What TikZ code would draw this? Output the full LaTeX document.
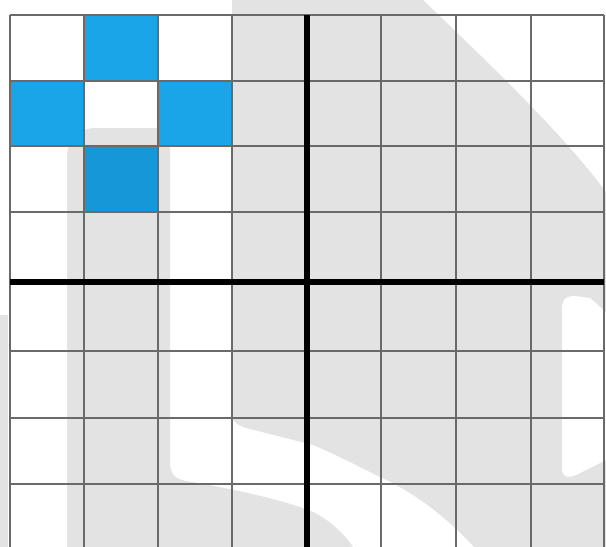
\documentclass[tikz,border=0pt]{standalone}
\definecolor{cellblue}{HTML}{19A5E8}
\definecolor{cellbluedark}{HTML}{1597D8}
\definecolor{wm}{HTML}{E3E3E3}
\definecolor{gridc}{HTML}{6A6A6A}
\tikzset{
  wmark/.style={fill=wm},
  bluecell/.style={fill=cellblue},
  bluecelldark/.style={fill=cellbluedark},
  gridline/.style={draw=gridc, line width=1.6pt},
  axisline/.style={draw=black, line width=5.5pt}
}
\begin{document}
\begin{tikzpicture}[x=1pt,y=-1pt]
\useasboundingbox (0,0) rectangle (606,547);
\fill[white] (0,0) rectangle (606,547);
\begin{scope}
\clip (0,0) rectangle (606,547);
% watermark: right body
\fill[wmark] (232,0) -- (423,0) .. controls (480,55) and (560,130) .. (606,192)
  -- (606,547) -- (474,547) .. controls (440,510) and (405,488) .. (380,477)
  .. controls (350,462) and (330,452) .. (313,445) -- (250,429)
  .. controls (238,426) and (232,422) .. (232,414) -- cycle;
% watermark: hole in right body
\fill[white] (562,310) .. controls (562,300) and (565,296) .. (575,296) -- (590,298)
  -- (606,312) -- (606,460) -- (576,475) .. controls (566,479) and (562,476) .. (562,468) -- cycle;
% watermark: stem and lower band
\fill[wmark] (67,547) -- (67,158) .. controls (67,140) and (78,128) .. (96,128)
  -- (170,128) -- (170,462) .. controls (170,475) and (176,479) .. (186,481)
  .. controls (240,490) and (290,502) .. (313,512)
  .. controls (330,520) and (345,535) .. (353,547) -- cycle;
% watermark: left strip
\fill[wmark] (0,315) rectangle (8,547);
% blue cells
\fill[bluecell] (84,15) rectangle (158,81);
\fill[bluecell] (10,81) rectangle (84,146);
\fill[bluecell] (158,81) rectangle (232,146);
\fill[bluecelldark] (84,146) rectangle (158,212);
% grid
\foreach \gx in {10,84,158,232,381,456,531,604}
  \draw[gridline] (\gx,15) -- (\gx,551);
\foreach \gy in {15,81,146,212,351,418,484}
  \draw[gridline] (10,\gy) -- (604,\gy);
% axes
\draw[axisline] (307,15) -- (307,551);
\draw[axisline] (10,282) -- (604,282);
\end{scope}
\end{tikzpicture}
\end{document}
